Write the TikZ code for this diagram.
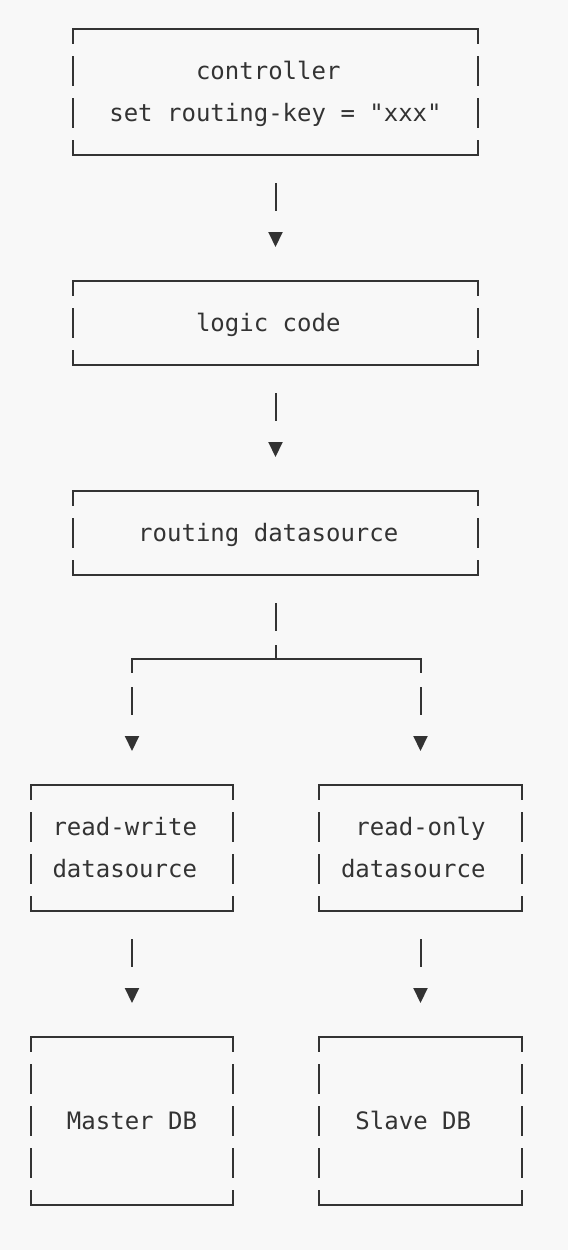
\documentclass[tikz,border=0pt]{standalone}
\usepackage{fontspec}
\setmonofont{DejaVu Sans Mono}
\usetikzlibrary{arrows.meta}
\definecolor{paper}{RGB}{248,248,248}
\definecolor{ink}{RGB}{51,51,51}
\newcommand{\padch}{\hphantom{x}}
\tikzset{
	>={Triangle[length=15pt,width=14pt]},
	asciibox/.style={
		rectangle,
		inner sep=0pt,
		outer sep=0pt,
		text=ink,
		font=\ttfamily\fontsize{24}{42}\selectfont,
		execute at begin node=\strut},
	rim/.style={draw=ink, line width=2pt, line cap=rect},
	side/.style={rim, dash pattern=on 28pt off 14pt, dash phase=14pt},
	stem/.style={draw=ink, line width=2pt, shorten <=28pt, dash pattern=on 28pt off 14pt},
	link/.style={draw=ink, line width=2pt, ->, shorten <=28pt, shorten >=34pt,
		dash pattern=on 28pt off 100pt},
}

\begin{document}
\begin{tikzpicture}[x=1pt, y=-1pt]
	% Paper
	\fill[paper] (0,0) rectangle (568,1250);

	% The boxes, one per layer, text kept as in the drawing
	\node[asciibox, minimum width=405pt, minimum height=126pt, align=left] (ctrl) at (275.5,92)
		{\strut\hphantom{xxxxxx}controller\\set routing-key = "xxx"\strut};
	\node[asciibox, minimum width=405pt, minimum height=84pt] (logic) at (275.5,323) {logic code\padch};
	\node[asciibox, minimum width=405pt, minimum height=84pt] (route) at (275.5,533) {routing datasource\padch};
	\node[asciibox, minimum width=202pt, minimum height=126pt, align=left] (rw) at (132,848)
		{\strut read-write\padch\\datasource\padch\strut};
	\node[asciibox, minimum width=203pt, minimum height=126pt, align=right] (ro) at (420.5,848)
		{\strut read-only\padch\\datasource\padch\strut};
	\node[asciibox, minimum width=202pt, minimum height=168pt] (master) at (132,1121) {Master DB};
	\node[asciibox, minimum width=203pt, minimum height=168pt] (slave) at (420.5,1121) {Slave DB\padch};

	% Frames: solid top and bottom, broken sides
	\foreach \bx in {ctrl, logic, route, rw, ro, master, slave} {
		\draw[rim] (\bx.north west) -- (\bx.north east);
		\draw[rim] (\bx.south west) -- (\bx.south east);
		\draw[side] (\bx.north west) -- (\bx.south west);
		\draw[side] (\bx.north east) -- (\bx.south east);
	}

	% Straight links
	\draw[link] (ctrl.south) -- (logic.north);
	\draw[link] (logic.south) -- (route.north);
	\draw[link] (rw.south) -- (master.north);
	\draw[link] (ro.south) -- (slave.north);

	% Fork below the routing datasource
	\coordinate (fork) at (275.5,659);
	\coordinate (forkL) at (rw.north |- fork);
	\coordinate (forkR) at (ro.north |- fork);
	\draw[stem] (route.south) -- (fork);
	\draw[rim] (forkL) -- (forkR);
	\foreach \side/\bx in {forkL/rw, forkR/ro}
		\draw[link, shorten <=0pt, dash pattern=on 14pt off 14pt on 28pt off 100pt] (\side) -- (\bx.north);
\end{tikzpicture}
\end{document}
